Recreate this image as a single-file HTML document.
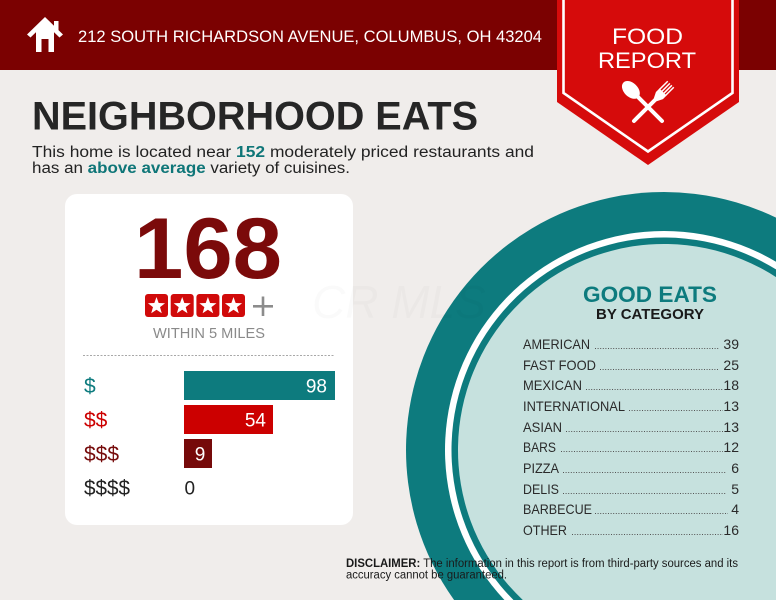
<!DOCTYPE html>
<html><head><meta charset="utf-8"><style>
html,body{margin:0;padding:0;background:#f0edeb;width:776px;height:600px;overflow:hidden;}
svg{display:block;}
text{font-family:"Liberation Sans",sans-serif;}
</style></head><body>
<svg width="776" height="600" viewBox="0 0 776 600" xmlns="http://www.w3.org/2000/svg">
<rect x="0" y="0" width="776" height="600" fill="#f0edeb"/>
<!-- header -->
<rect x="0" y="0" width="776" height="70" fill="#7b0101"/>
<!-- house icon -->
<rect x="54" y="21" width="4.5" height="9" fill="#fff"/>
<path d="M45 17 L63 34.5 L59.5 37.5 L45 23.5 L30.5 37.5 L27 34.5 Z" fill="#fff"/>
<path d="M36 31 L45 22.5 L54 31 L54 52 L48.5 52 L48.5 39 L41.5 39 L41.5 52 L36 52 Z" fill="#fff"/>
<text x="78" y="42" font-size="17" fill="#fff" textLength="464" lengthAdjust="spacingAndGlyphs">212 SOUTH RICHARDSON AVENUE, COLUMBUS, OH 43204</text>
<!-- banner -->
<path d="M557 0 L739 0 L739 102 L648 165 L557 102 Z" fill="#d60b0b"/>
<path d="M563.5 0 L563.5 93 L648 151.5 L732.5 93 L732.5 0" fill="none" stroke="#fff" stroke-width="2.6"/>
<text x="612" y="44" font-size="22" fill="#fff" textLength="71" lengthAdjust="spacingAndGlyphs">FOOD</text>
<text x="598" y="68" font-size="22" fill="#fff" textLength="98" lengthAdjust="spacingAndGlyphs">REPORT</text>
<!-- spoon -->
<g transform="translate(662,121) rotate(-45)">
<line x1="0" y1="0" x2="0" y2="-34" stroke="#fff" stroke-width="4" stroke-linecap="round"/>
<ellipse cx="0" cy="-44" rx="7" ry="10.5" fill="#fff"/>
</g>
<!-- fork -->
<g transform="translate(634,121) rotate(45)">
<line x1="0" y1="0" x2="0" y2="-32" stroke="#fff" stroke-width="4" stroke-linecap="round"/>
<path d="M-2 -30 L2 -30 L5 -36 L5 -41 L-5 -41 L-5 -36 Z" fill="#fff"/>
<rect x="-5" y="-52" width="1.5" height="12" fill="#fff"/>
<rect x="-2" y="-52" width="1.5" height="12" fill="#fff"/>
<rect x="0.8" y="-52" width="1.5" height="12" fill="#fff"/>
<rect x="3.5" y="-52" width="1.5" height="12" fill="#fff"/>
</g>
<!-- title -->
<text x="32" y="129.5" font-size="40" font-weight="bold" fill="#262626" textLength="446" lengthAdjust="spacingAndGlyphs">NEIGHBORHOOD EATS</text>
<text x="32" y="157" font-size="15.5" fill="#222" textLength="502" lengthAdjust="spacingAndGlyphs">This home is located near <tspan font-weight="bold" fill="#0f7678">152</tspan> moderately priced restaurants and</text>
<text x="32" y="173" font-size="15.5" fill="#222" textLength="318" lengthAdjust="spacingAndGlyphs">has an <tspan font-weight="bold" fill="#0f7678">above average</tspan> variety of cuisines.</text>
<!-- circle (clipped to frame) -->
<path d="M776 217.58 A258 258 0 0 0 454.09 600 L776 600 Z" fill="#0d7b7e"/>
<path d="M776 261.81 A219 219 0 0 0 504.43 600 L776 600 Z" fill="#fff"/>
<path d="M776 269.41 A212.5 212.5 0 0 0 513.48 600 L776 600 Z" fill="#0d7b7e"/>
<path d="M776 277.11 A206 206 0 0 0 522.80 600 L776 600 Z" fill="#c6e1de"/>
<!-- card -->
<rect x="65" y="194" width="288" height="331" rx="12" fill="#fff"/>
<text x="312" y="318" font-size="46" font-style="italic" fill="#000" fill-opacity="0.018">CR MLS</text>
<text x="134" y="278" font-size="86" font-weight="bold" fill="#7b0a0a" textLength="148" lengthAdjust="spacingAndGlyphs">168</text>
<g fill="#d00a0a">
<rect x="145" y="294" width="23" height="23" rx="3"/>
<rect x="170.7" y="294" width="23" height="23" rx="3"/>
<rect x="196.4" y="294" width="23" height="23" rx="3"/>
<rect x="222" y="294" width="23" height="23" rx="3"/>
</g>
<g fill="#fff">
<path transform="translate(156.5,306)" d="M0,-9 L2.17,-2.99 L8.56,-2.78 L3.52,1.14 L5.29,7.28 L0,3.7 L-5.29,7.28 L-3.52,1.14 L-8.56,-2.78 L-2.17,-2.99 Z"/>
<path transform="translate(182.2,306)" d="M0,-9 L2.17,-2.99 L8.56,-2.78 L3.52,1.14 L5.29,7.28 L0,3.7 L-5.29,7.28 L-3.52,1.14 L-8.56,-2.78 L-2.17,-2.99 Z"/>
<path transform="translate(207.9,306)" d="M0,-9 L2.17,-2.99 L8.56,-2.78 L3.52,1.14 L5.29,7.28 L0,3.7 L-5.29,7.28 L-3.52,1.14 L-8.56,-2.78 L-2.17,-2.99 Z"/>
<path transform="translate(233.5,306)" d="M0,-9 L2.17,-2.99 L8.56,-2.78 L3.52,1.14 L5.29,7.28 L0,3.7 L-5.29,7.28 L-3.52,1.14 L-8.56,-2.78 L-2.17,-2.99 Z"/>
</g>
<rect x="253" y="305" width="20" height="2.6" fill="#8c8c8c"/>
<rect x="261.7" y="296.5" width="2.6" height="19.5" fill="#8c8c8c"/>
<text x="153" y="338" font-size="15" fill="#8a8a8a" textLength="112" lengthAdjust="spacingAndGlyphs">WITHIN 5 MILES</text>
<line x1="83" y1="355.5" x2="335" y2="355.5" stroke="#a8a8a8" stroke-width="1" stroke-dasharray="2,1.5"/>
<!-- bars -->
<rect x="184" y="371" width="151" height="29" fill="#0d7b7e"/>
<rect x="184" y="405" width="89" height="29" fill="#cc0000"/>
<rect x="184" y="439" width="28" height="29" fill="#760a0a"/>
<text x="327" y="392.5" font-size="19" fill="#fff" text-anchor="end">98</text>
<text x="266" y="426.5" font-size="19" fill="#fff" text-anchor="end">54</text>
<text x="200" y="460.5" font-size="19" fill="#fff" text-anchor="middle">9</text>
<text x="184.5" y="494.5" font-size="19" fill="#222">0</text>
<text x="84" y="393" font-size="21" fill="#0d7b7e">$</text>
<text x="84" y="427" font-size="21" fill="#cc0000">$$</text>
<text x="84" y="461" font-size="21" fill="#760a0a">$$$</text>
<text x="84" y="495" font-size="21" fill="#222" textLength="46" lengthAdjust="spacingAndGlyphs">$$$$</text>
<!-- good eats -->
<text x="583" y="302" font-size="22" font-weight="bold" fill="#0d7b7e" textLength="134" lengthAdjust="spacingAndGlyphs">GOOD EATS</text>
<text x="596" y="319" font-size="15" font-weight="bold" fill="#1a1a1a" textLength="108" lengthAdjust="spacingAndGlyphs">BY CATEGORY</text>
<g font-size="14" fill="#2a2a2a">
<text x="523" y="349" textLength="67" lengthAdjust="spacingAndGlyphs">AMERICAN</text>
<text x="523" y="370" textLength="73" lengthAdjust="spacingAndGlyphs">FAST FOOD</text>
<text x="523" y="390" textLength="59" lengthAdjust="spacingAndGlyphs">MEXICAN</text>
<text x="523" y="411" textLength="102" lengthAdjust="spacingAndGlyphs">INTERNATIONAL</text>
<text x="523" y="432" textLength="39" lengthAdjust="spacingAndGlyphs">ASIAN</text>
<text x="523" y="452" textLength="33" lengthAdjust="spacingAndGlyphs">BARS</text>
<text x="523" y="473" textLength="36" lengthAdjust="spacingAndGlyphs">PIZZA</text>
<text x="523" y="494" textLength="36" lengthAdjust="spacingAndGlyphs">DELIS</text>
<text x="523" y="514" textLength="69" lengthAdjust="spacingAndGlyphs">BARBECUE</text>
<text x="523" y="535" textLength="44" lengthAdjust="spacingAndGlyphs">OTHER</text>
</g>
<g font-size="14" fill="#2a2a2a" text-anchor="end">
<text x="739" y="349">39</text>
<text x="739" y="370">25</text>
<text x="739" y="390">18</text>
<text x="739" y="411">13</text>
<text x="739" y="432">13</text>
<text x="739" y="452">12</text>
<text x="739" y="473">6</text>
<text x="739" y="494">5</text>
<text x="739" y="514">4</text>
<text x="739" y="535">16</text>
</g>
<g stroke="#555" stroke-width="1" stroke-dasharray="1,1.6">
<line x1="595" y1="348.5" x2="719" y2="348.5"/>
<line x1="600" y1="369.5" x2="719" y2="369.5"/>
<line x1="586" y1="389.5" x2="723" y2="389.5"/>
<line x1="629" y1="410.5" x2="723" y2="410.5"/>
<line x1="566" y1="431.5" x2="723" y2="431.5"/>
<line x1="561" y1="451.5" x2="723" y2="451.5"/>
<line x1="563" y1="472.5" x2="726" y2="472.5"/>
<line x1="563" y1="493.5" x2="726" y2="493.5"/>
<line x1="595" y1="513.5" x2="728" y2="513.5"/>
<line x1="572" y1="534.5" x2="723" y2="534.5"/>
</g>
<!-- disclaimer -->
<text x="346" y="567" font-size="11.5" fill="#1a1a1a" textLength="392" lengthAdjust="spacingAndGlyphs"><tspan font-weight="bold">DISCLAIMER:</tspan> The information in this report is from third-party sources and its</text>
<text x="346" y="578.5" font-size="11.5" fill="#1a1a1a" textLength="161" lengthAdjust="spacingAndGlyphs">accuracy cannot be guaranteed.</text>
</svg>
</body></html>
